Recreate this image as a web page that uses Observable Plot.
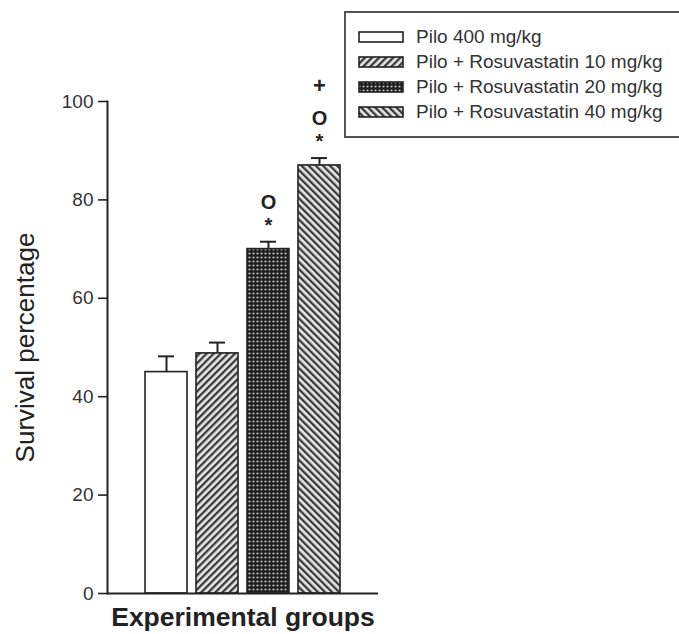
<!DOCTYPE html>
<html>
<head>
<meta charset="utf-8">
<script src="https://cdn.jsdelivr.net/npm/d3@7"></script>
<script src="https://cdn.jsdelivr.net/npm/@observablehq/plot@0.6"></script>
<style>
  html, body { margin: 0; padding: 0; background: #fff; overflow: hidden; }
  #wrap { position: relative; width: 679px; height: 634px; font-family: "Liberation Sans", Arial, sans-serif; }
  #legend { position: absolute; left: 344px; top: 11px; width: 345px; height: 127px; border: 2px solid #555; box-sizing: border-box; background: #fff; }
  .row { position: absolute; left: 12px; height: 24px; display: flex; align-items: center; font-size: 19px; color: #333; white-space: nowrap; }
  .row svg { margin-right: 12px; flex: none; }
</style>
</head>
<body>
<svg width="0" height="0" style="position:absolute">
  <defs>
    <pattern id="pat0" width="6" height="6" patternUnits="userSpaceOnUse">
      <rect width="6" height="6" fill="#ffffff"/>
    </pattern>
    <pattern id="pat1" width="5" height="5" patternUnits="userSpaceOnUse" patternTransform="rotate(45)">
      <rect width="5" height="5" fill="#e6e6e6"/>
      <rect width="2.3" height="5" fill="#3a3a3a"/>
    </pattern>
    <pattern id="pat2" width="4" height="4" patternUnits="userSpaceOnUse">
      <rect width="4" height="4" fill="#1e1e1e"/>
      <circle cx="1.5" cy="1.5" r="1.1" fill="#c0c0c0"/>
    </pattern>
    <pattern id="pat3" width="5" height="5" patternUnits="userSpaceOnUse" patternTransform="rotate(-45)">
      <rect width="5" height="5" fill="#e6e6e6"/>
      <rect width="2.3" height="5" fill="#3a3a3a"/>
    </pattern>
  </defs>
</svg>
<div id="wrap">
  <div id="chart"></div>
  <div id="legend"></div>
</div>
<script>
// ---- data ----
const groups = ["Pilo 400 mg/kg", "Pilo + Rosuvastatin 10 mg/kg", "Pilo + Rosuvastatin 20 mg/kg", "Pilo + Rosuvastatin 40 mg/kg"];
const survival = [45, 48.8, 70, 87];
const sem = [3.2, 2.2, 1.5, 1.5];
const markStar = ["", "", "*", "*"];
const markCircle = ["", "", "O", "O"];
const markPlus = ["", "", "", "+"];
const yTicks = [0, 20, 40, 60, 80, 100];
const patterns = ["url(#pat0)", "url(#pat1)", "url(#pat2)", "url(#pat3)"];
const yLabel = "Survival percentage";
const xLabel = "Experimental groups";

const data = groups.map((g, i) => ({
  group: g, value: survival[i], err: sem[i], top: survival[i] + sem[i],
  star: markStar[i], circle: markCircle[i], plus: markPlus[i]
}));

const font = "'Liberation Sans', Arial, sans-serif";

const chart = Plot.plot({
  width: 679,
  height: 634,
  marginLeft: 107,
  marginRight: 301,
  marginTop: 101,
  marginBottom: 41,
  style: { fontFamily: font, fontSize: "19px", color: "#333", background: "#fff", overflow: "visible" },
  x: { domain: groups, paddingInner: 0.18, paddingOuter: 0.745, axis: null },
  y: { domain: [0, 100], axis: null },
  color: { domain: groups, range: patterns },
  marks: [
    Plot.axisY({ ticks: yTicks, tickSize: 9, tickPadding: 5, tickFormat: d => String(d), label: null, stroke: "#222", strokeWidth: 1.6, fill: "#333", fontSize: 19 }),
    Plot.frame({ anchor: "left", stroke: "#222", strokeWidth: 2 }),
    Plot.ruleX(data, { x: "group", y1: "value", y2: "top", stroke: "#222", strokeWidth: 2 }),
    Plot.tickY(data, { x: "group", y: "top", stroke: "#222", strokeWidth: 2, insetLeft: 13, insetRight: 13 }),
    Plot.barY(data, { x: "group", y: "value", fill: "group", stroke: "#222", strokeWidth: 1.6 }),
    Plot.ruleY([0], { stroke: "#222", strokeWidth: 2 }),
    Plot.text(data, { x: "group", y: "top", text: "star", dy: -16, fontSize: 20, fontWeight: "bold", fill: "#222", lineAnchor: "middle" }),
    Plot.text(data, { x: "group", y: "top", text: "circle", dy: -39, fontSize: 20, fontWeight: "bold", fill: "#222", lineAnchor: "middle" }),
    Plot.text(data, { x: "group", y: "top", text: "plus", dy: -72, fontSize: 22, fontWeight: "bold", fill: "#222", lineAnchor: "middle" }),
    Plot.text([yLabel], { text: d => d, frameAnchor: "left", rotate: -90, dx: -82, fontSize: 26, fill: "#222", textAnchor: "middle", lineAnchor: "middle" }),
    Plot.text([xLabel], { text: d => d, frameAnchor: "bottom", dy: 24, fontSize: 26.5, fontWeight: "bold", fill: "#222", textAnchor: "middle", lineAnchor: "middle" })
  ]
});
document.getElementById("chart").appendChild(chart);

// ---- legend ----
const legend = document.getElementById("legend");
groups.forEach((g, i) => {
  const row = document.createElement("div");
  row.className = "row";
  row.style.top = (12 + i * 25) + "px";
  row.innerHTML = `<svg width="46" height="12"><rect x="1" y="1" width="44" height="10" fill="${patterns[i]}" stroke="#222" stroke-width="1.6"/></svg><span>${g}</span>`;
  legend.appendChild(row);
});
</script>
</body>
</html>
